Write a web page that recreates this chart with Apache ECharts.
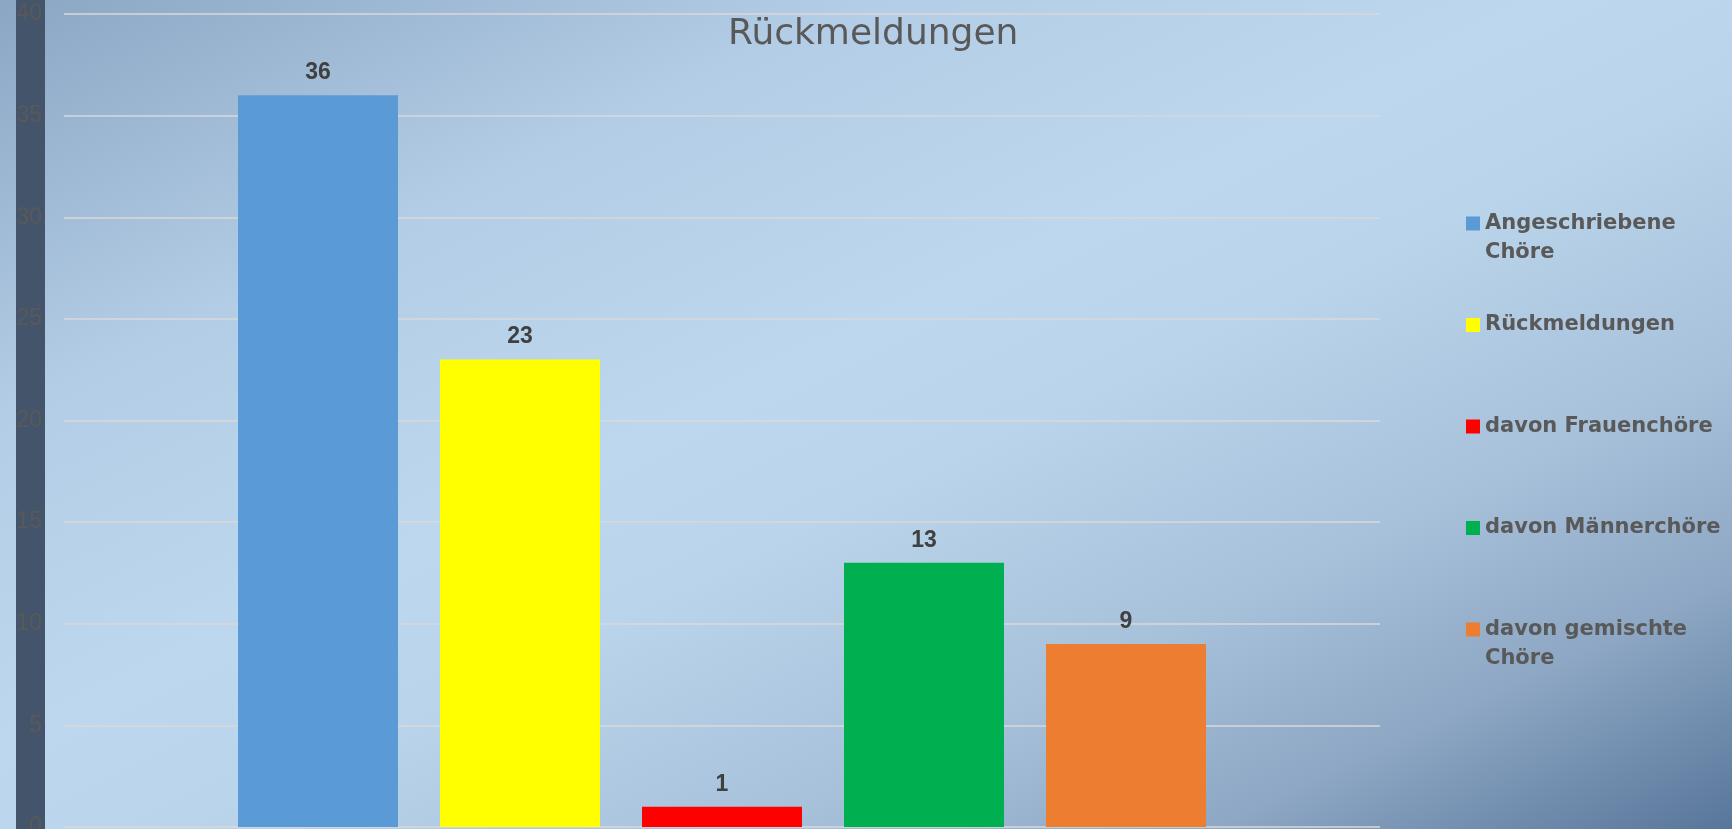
<!DOCTYPE html>
<html>
<head>
<meta charset="utf-8">
<script src="https://cdn.jsdelivr.net/npm/echarts@6/dist/echarts.min.js"></script>
<style>
    html, body { margin: 0; padding: 0; }
    #chart { width: 1732px; height: 829px; }
</style>
</head>
<body>
<div id="chart"></div>
<script>
// data
var seriesNames = ['Angeschriebene Chöre', 'Rückmeldungen', 'davon Frauenchöre', 'davon Männerchöre', 'davon gemischte Chöre'];
var seriesValues = [36, 23, 1, 13, 9];
var category = [''];
var yMin = 0, yMax = 40, yStep = 5;

// colours
var barColors = ['#5B9BD5', '#FFFF00', '#FF0000', '#00B050', '#ED7D31'];
var textGrey = '#595959';

// how the legend wraps the long names
var legendLines = {
    'Angeschriebene Chöre': 'Angeschriebene\nChöre',
    'davon gemischte Chöre': 'davon gemischte\nChöre'
};

var myChart = echarts.init(document.getElementById('chart'));

var series = [];
for (var i = 0; i < seriesNames.length; i++) {
    series.push({
        name: seriesNames[i],
        type: 'bar',
        data: [seriesValues[i]],
        barWidth: 160,
        barGap: '26.25%',
        itemStyle: {color: barColors[i]},
        label: {
            show: true,
            position: 'top',
            distance: 11,
            color: '#404040',
            fontFamily: 'Liberation Sans',
            fontWeight: 'bold',
            fontSize: 23
        }
    });
}

var option = {
    animation: false,
    backgroundColor: {
        type: 'linear',
        x: 0, y: 0, x2: 646, y2: 1349,
        global: true,
        colorStops: [
            {offset: 0, color: '#8BA6C3'},
            {offset: 0.25, color: '#B3CDE6'},
            {offset: 0.45, color: '#BDD7EE'},
            {offset: 0.55, color: '#BAD4EB'},
            {offset: 0.72, color: '#A7C1DB'},
            {offset: 0.85, color: '#8DA7C4'},
            {offset: 1, color: '#58769A'}
        ]
    },
    title: {
        text: 'Rückmeldungen',
        left: 728,
        top: 17,
        padding: 0,
        textStyle: {
            fontFamily: 'DejaVu Sans',
            fontWeight: 'normal',
            fontSize: 36,
            color: textGrey
        }
    },
    legend: {
        orient: 'vertical',
        left: 1466,
        top: 180,
        padding: 0,
        itemGap: 14.5,
        itemWidth: 14,
        itemHeight: 14,
        icon: 'rect',
        data: seriesNames,
        formatter: function (name) {
            // empty first line keeps the icon level with the first text line
            return legendLines[name] ? '\n' + legendLines[name] : '\n' + name + '\n';
        },
        textStyle: {
            fontFamily: 'DejaVu Sans',
            fontWeight: 'bold',
            fontSize: 21,
            lineHeight: 29,
            color: textGrey
        }
    },
    grid: {
        left: 64,
        right: 352,
        top: 14,
        bottom: 2,
        containLabel: false,
        outerBoundsMode: 'none'
    },
    xAxis: {
        type: 'category',
        data: category,
        axisLine: {show: false},
        axisTick: {show: false},
        axisLabel: {show: false}
    },
    yAxis: {
        type: 'value',
        min: yMin,
        max: yMax,
        interval: yStep,
        axisLine: {show: false},
        axisTick: {show: false},
        axisLabel: {
            margin: 22,
            color: textGrey,
            fontFamily: 'Liberation Sans',
            fontSize: 23
        },
        splitLine: {lineStyle: {color: '#D9D9D9', width: 1.5}}
    },
    graphic: [{
        type: 'rect',
        z: -10,
        shape: {x: 16, y: 0, width: 29, height: 829},
        style: {fill: '#44546A'}
    }],
    series: series
};

myChart.setOption(option);
</script>
</body>
</html>
